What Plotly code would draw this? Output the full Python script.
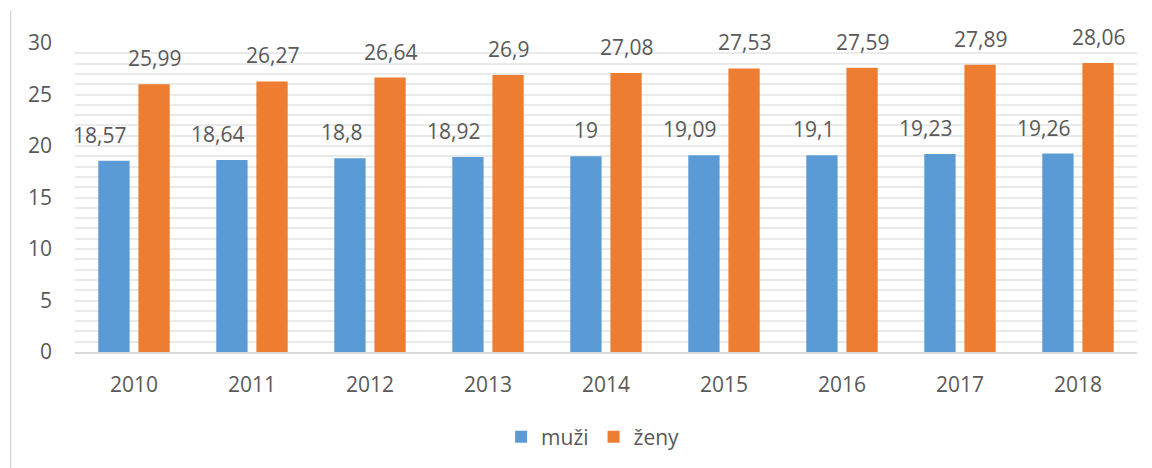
import plotly.graph_objects as go

years = ["2010", "2011", "2012", "2013", "2014", "2015", "2016", "2017", "2018"]
muzi = [18.57, 18.64, 18.8, 18.92, 19.0, 19.09, 19.1, 19.23, 19.26]
zeny = [25.99, 26.27, 26.64, 26.9, 27.08, 27.53, 27.59, 27.89, 28.06]
series_names = ["muži", "ženy"]
colors = ["#5B9BD5", "#ED7D31"]
y_ticks = [0, 5, 10, 15, 20, 25, 30]

FONT = "'Open Sans', 'Noto Sans', sans-serif"
FS = 21
TXT = "#595959"


def fmt(v):
    s = ("%.2f" % v).rstrip("0").rstrip(".")
    return s.replace(".", ",")


fig = go.Figure()
for name, vals, col in zip(series_names, [muzi, zeny], colors):
    fig.add_trace(go.Bar(x=years, y=vals, name=name, marker=dict(color=col, line=dict(width=0)),
                         hoverinfo="skip"))

# on a category axis annotations use the category's serial index
annotations = []
for i, v in enumerate(muzi):
    annotations.append(dict(x=i, y=v, text=fmt(v), showarrow=False, xanchor="right", yanchor="bottom",
                            xshift=-7, yshift=11, borderpad=0,
                            font=dict(family=FONT, size=FS, color=TXT)))
for i, v in enumerate(zeny):
    annotations.append(dict(x=i, y=v, text=fmt(v), showarrow=False, xanchor="center", yanchor="bottom",
                            xshift=20, yshift=11, borderpad=0,
                            font=dict(family=FONT, size=FS, color=TXT)))

# page body has an 8px default margin, so the figure is 8px smaller and margins shifted
fig.update_layout(
    width=1144, height=460,
    margin=dict(l=67, r=15, t=35, b=116, autoexpand=False),
    paper_bgcolor="white", plot_bgcolor="white",
    barmode="group", bargap=0.32, bargroupgap=0.22,
    font=dict(family=FONT, size=FS, color=TXT),
    showlegend=True,
    legend=dict(orientation="h", xref="container", yref="container", x=0.511, xanchor="center",
                y=0.067, yanchor="middle",
                font=dict(family=FONT, size=FS, color=TXT), bgcolor="rgba(0,0,0,0)"),
    annotations=annotations,
    shapes=[dict(type="line", xref="paper", yref="paper", x0=-0.0607, x1=-0.0607,
                 y0=-0.375, y1=1.105, line=dict(color="#D9D9D9", width=1.5))],
)
fig.update_xaxes(type="category", categoryorder="array", categoryarray=years,
                 range=[-0.5, len(years) - 0.5], autorange=False,
                 automargin=False, showgrid=False, showline=True,
                 linecolor="#D9D9D9", linewidth=1.5,
                 ticks="", ticklabelstandoff=13, tickfont=dict(family=FONT, size=FS, color=TXT))
fig.update_yaxes(range=[0, 30], autorange=False, automargin=False, tickvals=y_ticks, showgrid=True,
                 gridcolor="#EAEAEA", gridwidth=1.5,
                 minor=dict(dtick=1, showgrid=True, gridcolor="#EAEAEA", gridwidth=1.5),
                 zeroline=False, showline=False, ticks="", ticklabelstandoff=22,
                 tickfont=dict(family=FONT, size=FS, color=TXT))

fig.write_html("out.html")
